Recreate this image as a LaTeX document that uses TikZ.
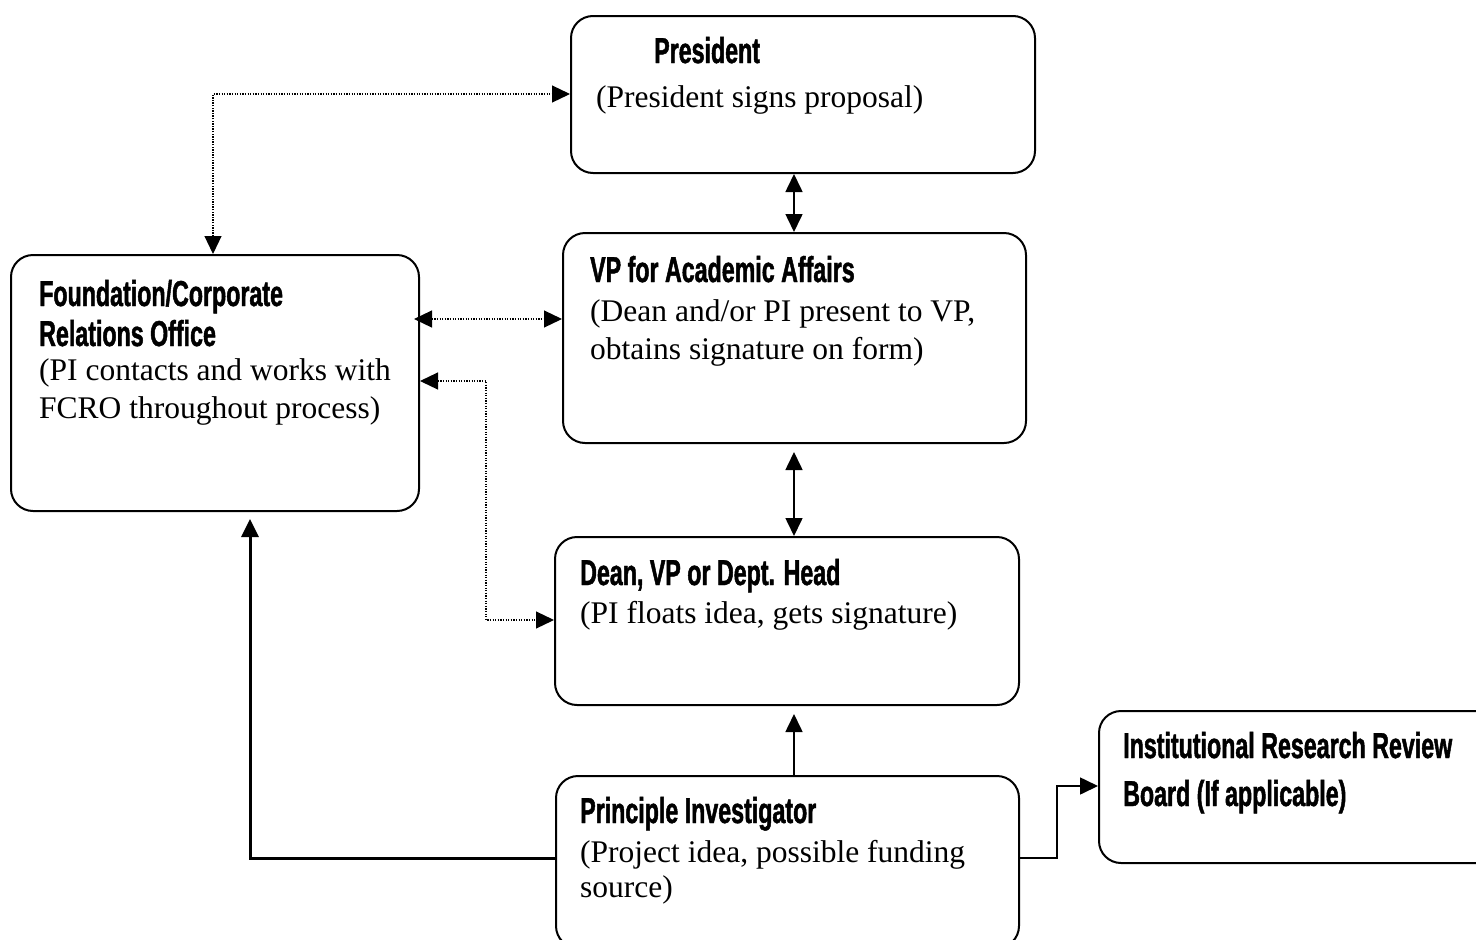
\documentclass[tikz,border=0pt]{standalone}
\usepackage{fontspec}
\setmainfont{Liberation Serif}
\newfontfamily\hd[FakeStretch=0.645,FakeBold=1.3]{Liberation Sans Bold}
\usetikzlibrary{arrows.meta}
\begin{document}
\begin{tikzpicture}[x=1pt,y=-1pt,
  box/.style={draw, line width=2pt, rounded corners=22pt, anchor=north west, inner sep=0pt},
  hdt/.style={anchor=base west, inner sep=0pt, font=\hd\fontsize{36}{40}\selectfont},
  sft/.style={anchor=base west, inner sep=0pt, font=\fontsize{31.5}{38}\selectfont},
  tip/.style={-{Triangle[length=18pt,width=17pt]}},
  tips/.style={{Triangle[length=18pt,width=17pt]}-{Triangle[length=18pt,width=17pt]}},
  sline/.style={line width=1.6pt},
  thline/.style={line width=3pt},
  dline/.style={line width=1.2pt, dash pattern=on 1.3pt off 1.3pt}
]
\useasboundingbox (0,0) rectangle (1476,940);
\clip (0,0) rectangle (1476,940);
% boxes
\node[box, minimum width=464pt, minimum height=157pt] (pres) at (570,15) {};
\node[box, minimum width=463pt, minimum height=210pt] (vp) at (562,232) {};
\node[box, minimum width=408pt, minimum height=256pt] (fcro) at (10,254) {};
\node[box, minimum width=464pt, minimum height=168pt] (dean) at (554,536) {};
\node[box, minimum width=463pt, minimum height=172pt] (pi) at (555,775) {};
\node[box, minimum width=400pt, minimum height=152pt] (irb) at (1098,710) {};
% texts
\node[hdt] (presA) at (654,63) {President};
\node[sft] (presB) at (596,107) {(President signs proposal)};
\node[hdt] (vpA) at (590,282) {VP for Academic Affairs};
\node[sft] (vpB) at (590,321) {(Dean and/or PI present to VP,};
\node[sft] (vpC) at (590,359) {obtains signature on form)};
\node[hdt] (fcA) at (39,306) {Foundation/Corporate};
\node[hdt] (fcB) at (39,346) {Relations Office};
\node[sft] (fcC) at (39,380) {(PI contacts and works with};
\node[sft] (fcD) at (39,418) {FCRO throughout process)};
\node[hdt] (deA) at (580,585) {Dean, VP or Dept. Head};
\node[sft] (deB) at (580,623) {(PI floats idea, gets signature)};
\node[hdt] (piA) at (580,823) {Principle Investigator};
\node[sft] (piB) at (580,862) {(Project idea, possible funding};
\node[sft] (piC) at (580,897) {source)};
\node[hdt] (irA) at (1123,758) {Institutional Research Review};
\node[hdt] (irB) at (1123,806) {Board (If applicable)};
% helper coordinates
\coordinate (cx) at (794,0);
\coordinate (c2) at (250,858);
\coordinate (c3) at (1057,858);
\coordinate (c4) at (1057,786);
\coordinate (d1) at (213,94);
\coordinate (d2) at (0,319);
\coordinate (d3) at (486,381);
\coordinate (d4) at (486,620);
% solid connectors
\draw[sline, tips] (pres.south -| cx) -- (vp.north -| cx);
\draw[sline, tips] ([yshift=-8pt]vp.south -| cx) -- (dean.north -| cx);
\draw[sline, tip] (pi.north -| cx) -- ([yshift=-8pt]dean.south -| cx);
\draw[thline, tip] (pi.west |- c2) -- (c2) -- ([yshift=-7pt]fcro.south -| c2);
\draw[sline, tip] (pi.east |- c3) -- (c3) -- (c4) -- (irb.west |- c4);
% dotted connectors
\draw[dline, tips] (fcro.north -| d1) -- (d1) -- (pres.west |- d1);
\draw[dline, tips] ([xshift=-6pt]fcro.east |- d2) -- (vp.west |- d2);
\draw[dline, tips] (fcro.east |- d3) -- (d3) -- (d4) -- (dean.west |- d4);
\end{tikzpicture}
\end{document}
